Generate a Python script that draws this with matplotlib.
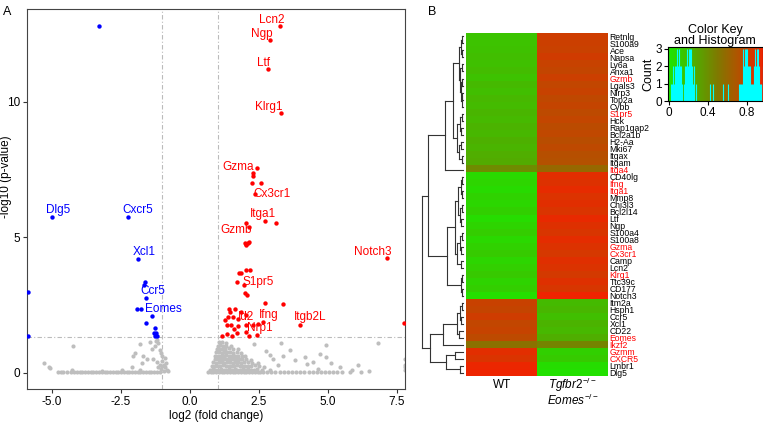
import numpy as np
import matplotlib
matplotlib.use('Agg')
import matplotlib.pyplot as plt
from matplotlib.colors import LinearSegmentedColormap

plt.rcParams['font.family'] = ['Liberation Sans', 'DejaVu Sans']
plt.rcParams['mathtext.fontset'] = 'custom'
plt.rcParams['mathtext.it'] = 'Liberation Sans:italic'
plt.rcParams['mathtext.rm'] = 'Liberation Sans'

# ---------------- volcano data ----------------
grey_x = [
    # row along the baseline, left side
    -4.77, -4.68, -4.6, -4.45, -4.3, -4.2, -4.1, -4.0, -3.9, -3.8, -3.7, -3.6, -3.5, -3.4,
    -3.3, -3.2, -3.1, -3.0, -2.9, -2.8, -2.7, -2.6, -2.5, -2.4, -2.3, -2.2, -2.1, -2.0,
    -1.9, -1.8, -1.7, -1.6, -1.5, -1.4, -1.3, -1.2, -1.1,
    # scattered left
    -5.3, -5.13, -5.06, -4.23, -4.29, -3.2, -2.47, -1.81, -1.45, -1.99, -2.05, -1.69,
    -1.39, -1.27, -1.15, -1.1, -1.05, -1.57, -1.75, -2.11, -1.81, -1.33, -1.25, -1.2,
    # small blob near -1
    -1.1, -1.0, -0.95, -0.9, -0.85, -1.05, -0.95, -0.9, -1.0, -1.15, -0.8, -1.2, -1.02, -0.88,
    # right blob
    0.66, 0.75, 0.85, 0.95, 1.05, 1.15, 1.25, 1.35, 1.45, 1.55, 1.65, 1.75, 1.85, 1.95,
    2.05, 2.15, 2.25, 2.35, 2.45, 2.55, 2.65, 2.8, 2.95, 3.1, 3.25, 3.4, 3.55, 3.7, 3.85,
    4.0, 4.15, 4.3, 4.45, 4.6, 4.75, 4.9, 5.05, 5.2, 5.35, 5.5,
    0.72, 0.82, 0.92, 1.02, 1.12, 1.22, 1.32, 1.42, 1.52, 1.62, 1.72, 1.82, 1.92, 2.02,
    2.12, 2.22, 2.32, 2.42, 2.6, 2.9,
    0.8, 0.9, 1.0, 1.1, 1.2, 1.3, 1.4, 1.5, 1.6, 1.7, 1.8, 1.9, 2.0, 2.1, 2.2, 2.35, 2.5, 2.7,
    0.85, 0.95, 1.05, 1.15, 1.25, 1.35, 1.45, 1.55, 1.65, 1.75, 1.85, 1.95, 2.1, 2.25, 2.45,
    0.9, 1.0, 1.1, 1.2, 1.3, 1.4, 1.5, 1.6, 1.7, 1.8, 1.9, 2.05, 2.2,
    0.92, 1.02, 1.12, 1.22, 1.32, 1.42, 1.52, 1.62, 1.75, 1.9, 2.0,
    0.95, 1.05, 1.15, 1.25, 1.35, 1.45, 1.55, 1.7, 1.85,
    0.98, 1.08, 1.18, 1.28, 1.4, 1.55, 1.75,
    1.0, 1.1, 1.2, 1.32, 1.5,
    1.05, 1.15, 1.3,
    # scattered right
    2.33, 3.3, 4.92, 6.82, 3.62, 2.74, 4.71, 4.95, 4.17, 3.38, 3.8, 4.47, 5.13, 5.43,
    6.1, 5.86, 4.23, 4.65, 3.0, 3.2, 2.9, 6.5, 6.2, 5.8, 7.8, 7.8, 7.8, 7.8,
]
grey_y = [
    0.02, 0.03, 0.02, 0.03, 0.02, 0.03, 0.02, 0.03, 0.02, 0.03, 0.02, 0.03, 0.02, 0.03,
    0.02, 0.03, 0.02, 0.03, 0.02, 0.03, 0.02, 0.03, 0.02, 0.03, 0.02, 0.03, 0.02, 0.03,
    0.02, 0.03, 0.02, 0.03, 0.02, 0.03, 0.02, 0.03, 0.02,
    0.37, 0.22, 0.17, 0.99, 0.12, 0.08, 0.1, 1.06, 1.14, 0.72, 0.6, 0.63,
    0.86, 0.98, 1.11, 0.85, 0.72, 0.49, 0.35, 0.22, 0.1, 0.49, 1.18, 1.2,
    0.3, 0.45, 0.3, 0.2, 0.1, 0.15, 0.05, 0.55, 0.6, 0.2, 0.05, 0.4, 0.25, 0.35,
    0.02, 0.03, 0.02, 0.03, 0.02, 0.03, 0.02, 0.03, 0.02, 0.03, 0.02, 0.03, 0.02, 0.03,
    0.02, 0.03, 0.02, 0.03, 0.02, 0.03, 0.02, 0.03, 0.02, 0.03, 0.02, 0.03, 0.02, 0.03, 0.02,
    0.03, 0.02, 0.03, 0.02, 0.03, 0.02, 0.03, 0.02, 0.03, 0.02, 0.03,
    0.12, 0.13, 0.11, 0.12, 0.14, 0.12, 0.11, 0.13, 0.12, 0.14, 0.12, 0.11, 0.13, 0.12,
    0.14, 0.12, 0.11, 0.13, 0.12, 0.1,
    0.25, 0.26, 0.24, 0.25, 0.27, 0.25, 0.24, 0.26, 0.25, 0.27, 0.24, 0.25, 0.26, 0.24,
    0.25, 0.27, 0.24, 0.22,
    0.38, 0.37, 0.39, 0.38, 0.37, 0.39, 0.38, 0.37, 0.39, 0.38, 0.37, 0.39, 0.38, 0.37, 0.36,
    0.5, 0.51, 0.49, 0.5, 0.52, 0.5, 0.49, 0.51, 0.5, 0.52, 0.49, 0.5, 0.48,
    0.62, 0.63, 0.61, 0.62, 0.64, 0.62, 0.61, 0.63, 0.62, 0.6, 0.61,
    0.75, 0.76, 0.74, 0.75, 0.77, 0.75, 0.74, 0.76, 0.73,
    0.88, 0.89, 0.87, 0.88, 0.9, 0.87, 0.86,
    1.0, 1.01, 0.99, 1.0, 0.98,
    1.12, 1.13, 1.1,
    1.06, 1.11, 1.02, 1.11, 0.84, 0.79, 0.68, 0.59, 0.59, 0.63, 0.47, 0.41, 0.35, 0.22,
    0.28, 0.12, 0.33, 0.15, 0.5, 0.3, 0.65, 0.05, 0.03, 0.04, 0.1, 0.3, 0.5, 0.2,
]

red_x = [3.26, 2.9, 2.84, 3.3, 2.42, 2.3, 2.28, 2.24, 2.56, 2.36, 2.72, 3.12, 2.05, 2.15,
         2.0, 2.05, 2.1, 2.15, 2.02, 2.17, 2.05, 1.84, 1.79, 1.69, 1.97, 1.99, 2.07, 2.72,
         3.38, 1.45, 1.63, 1.84, 1.39, 1.56, 1.75, 2.05, 2.66, 2.47, 1.33, 1.5, 1.75, 2.05,
         2.3, 3.99, 2.05, 2.42, 2.15, 1.18, 1.33, 1.51, 1.69, 7.77, 7.13, 1.42, 1.28, 1.6]
red_y = [12.8, 12.28, 11.2, 9.57, 7.54, 7.36, 7.27, 6.99, 6.99, 6.58, 5.6, 5.51, 5.54, 5.39,
         4.77, 4.74, 4.8, 4.82, 4.72, 3.79, 3.79, 3.69, 3.69, 3.36, 3.24, 2.93, 2.87, 2.58,
         2.53, 2.25, 2.34, 2.25, 2.07, 2.07, 2.0, 2.14, 1.88, 1.8, 1.76, 1.76, 1.72, 1.78,
         1.78, 1.76, 1.51, 1.39, 1.35, 1.35, 1.43, 1.35, 1.45, 1.85, 4.24, 2.35, 1.95, 1.6]

blue_x = [-3.31, -5.01, -2.23, -1.87, -1.63, -1.66, -1.6, -1.91, -1.79, -1.37, -1.6,
          -1.27, -1.3, -1.25, -1.18, -1.28, -5.88, -5.88]
blue_y = [12.8, 5.76, 5.76, 4.2, 3.36, 3.24, 2.74, 2.34, 2.34, 2.09, 1.85,
          1.64, 1.45, 1.45, 1.35, 1.35, 2.97, 1.37]

red_labels = ['Lcn2', 'Ngp', 'Ltf', 'Klrg1', 'Gzma', 'Cx3cr1', 'Itga1', 'Gzmb', 'Notch3',
              'S1pr5', 'Id2', 'Ifng', 'Itgb2L', 'Nrp1']
red_lab_x = [2.96, 2.62, 2.66, 2.84, 1.75, 2.96, 2.66, 1.67, 6.64, 2.47, 2.03, 2.87, 4.35, 2.54]
red_lab_y = [13.0, 12.5, 11.44, 9.79, 7.6, 6.59, 5.86, 5.27, 4.47, 3.36, 2.04, 2.13, 2.04, 1.64]

blue_labels = ['Dlg5', 'Cxcr5', 'Xcl1', 'Ccr5', 'Eomes']
blue_lab_x = [-4.77, -1.91, -1.67, -1.35, -0.97]
blue_lab_y = [6.0, 6.0, 4.47, 3.01, 2.34]

# ---------------- heatmap data ----------------
genes = ['Retnlg', 'S100a9', 'Ace', 'Napsa', 'Ly6a', 'Anxa1', 'Gzmb', 'Lgals3', 'Nlrp3',
         'Top2a', 'Cybb', 'S1pr5', 'Hck', 'Rap1gap2', 'Bcl2a1b', 'H2-Aa', 'Mki67', 'Itgax',
         'Itgam', 'Itga4', 'CD40lg', 'Ifng', 'Itga1', 'Mmp8', 'Chi3l3', 'Bcl2l14', 'Ltf',
         'Ngp', 'S100a4', 'S100a8', 'Gzma', 'Cx3cr1', 'Camp', 'Lcn2', 'Klrg1', 'Ttc39c',
         'CD177', 'Notch3', 'Itm2a', 'Hsph1', 'Ccr5', 'Xcl1', 'CD22', 'Eomes', 'Ikzf2',
         'Gzmm', 'CXCR5', 'Lmbr1', 'Dlg5']
red_genes = ['Gzmb', 'S1pr5', 'Itga4', 'Ifng', 'Itga1', 'Gzma', 'Cx3cr1', 'Klrg1',
             'Eomes', 'Ikzf2', 'Gzmm', 'CXCR5']

wt_vals = [0.153, 0.162, 0.171, 0.184, 0.175, 0.193, 0.166, 0.205, 0.187, 0.214, 0.196,
           0.226, 0.208, 0.235, 0.218, 0.247, 0.229, 0.258, 0.272, 0.42,
           0.062, 0.081, 0.054, 0.093, 0.073, 0.104, 0.045, 0.085, 0.116, 0.066, 0.097,
           0.125, 0.077, 0.108, 0.134, 0.088, 0.112, 0.033,
           0.812, 0.794, 0.836, 0.783, 0.803, 0.765, 0.55,
           0.918, 0.883, 0.962, 0.971]
ko_vals = [0.834, 0.822, 0.813, 0.845, 0.805, 0.792, 0.826, 0.784, 0.808, 0.772, 0.796,
           0.763, 0.787, 0.754, 0.776, 0.745, 0.768, 0.735, 0.724, 0.6,
           0.923, 0.902, 0.934, 0.893, 0.915, 0.884, 0.945, 0.906, 0.875, 0.927, 0.896,
           0.865, 0.912, 0.887, 0.856, 0.904, 0.872, 0.975,
           0.202, 0.221, 0.183, 0.238, 0.213, 0.254, 0.45,
           0.102, 0.128, 0.042, 0.025]

# row dendrogram: [merge height, left, right], leaves are row indices
G1 = [4, [2, [1, 0, 1], [1.5, 2, 3]], [3, [1, 4, 5], [2, [1, 6, 7], [1.2, [0.8, 8, 9], 10]]]]
G2 = [6, [3, [1.5, 11, 12], [2, 13, 14]], [4, [2, 15, 16], [1, 17, 18]]]
A1 = [18, [10, G1, G2], 19]
G3 = [8, [5, [2, [1, 20, 21], [1.5, 22, 23]], [3, [1, 24, 25], [2, 26, 27]]],
      [6, [3, [1, 28, 29], [2, 30, 31]], [2.5, 32, 33]]]
G4 = [2, [1, 34, 35], [1.5, 36, 37]]
A2 = [16, G3, G4]
B1 = [21, [6, [3, [1.5, 38, 39], [2, 40, 41]], [4, 42, 43]], 44]
B2 = [17, [8, 45, 46], [3, 47, 48]]
tree = [42, [36, A1, A2], [34, B1, B2]]

cmap = LinearSegmentedColormap.from_list('gr', ['#1EE600', '#7F7A00', '#F52000'])

fig = plt.figure(figsize=(7.63, 4.23), dpi=100)

# ---------------- panel A ----------------
ax = fig.add_axes([0.0358, 0.0797, 0.495, 0.899])
ax.scatter(grey_x, grey_y, s=9, color='#BEBEBE', linewidths=0, zorder=2)
ax.scatter(red_x, red_y, s=10, color='red', linewidths=0, zorder=3)
ax.scatter(blue_x, blue_y, s=10, color='blue', linewidths=0, zorder=3)
ax.axvline(-1, color='#BBBBBB', lw=0.8, ls=(0, (4, 2, 1, 2)), zorder=1)
ax.axvline(1, color='#BBBBBB', lw=0.8, ls=(0, (4, 2, 1, 2)), zorder=1)
ax.axhline(-np.log10(0.05), color='#BBBBBB', lw=0.8, ls=(0, (4, 2, 1, 2)), zorder=1)
for t, x, y in zip(red_labels, red_lab_x, red_lab_y):
    ax.text(x, y, t, color='red', fontsize=8.5, ha='center', va='center', zorder=4)
for t, x, y in zip(blue_labels, blue_lab_x, blue_lab_y):
    ax.text(x, y, t, color='blue', fontsize=8.5, ha='center', va='center', zorder=4)
ax.set_xlim(-5.9, 7.8)
ax.set_ylim(-0.61, 13.42)
ax.set_xticks([-5.0, -2.5, 0.0, 2.5, 5.0, 7.5])
ax.set_xticklabels(['-5.0', '-2.5', '0.0', '2.5', '5.0', '7.5'])
ax.set_yticks([0, 5, 10])
ax.tick_params(labelsize=8.5, length=3, width=0.8, color='#333333', pad=2)
for sp in ax.spines.values():
    sp.set_color('#444444')
    sp.set_linewidth(0.8)
ax.set_xlabel('log2 (fold change)', fontsize=8.5, labelpad=1)
ax.set_ylabel('-log10 (p-value)', fontsize=8.5)
ax.yaxis.set_label_coords(-0.041, 0.56)
fig.text(0.004, 0.985, 'A', fontsize=9, va='top')
fig.text(0.561, 0.985, 'B', fontsize=9, va='top')

# ---------------- panel B heatmap ----------------
n = len(genes)
hm = fig.add_axes([0.611, 0.111, 0.186, 0.811])
mat = np.column_stack([wt_vals, ko_vals])
hm.imshow(mat, cmap=cmap, vmin=0, vmax=1, aspect='auto', interpolation='nearest')
hm.set_xlim(-0.5, 1.5)
hm.set_ylim(n - 0.5, -0.5)
hm.set_xticks([])
hm.set_yticks(range(n))
hm.set_yticklabels(genes, fontsize=6.2)
hm.yaxis.tick_right()
hm.tick_params(axis='y', length=0, pad=1)
for lab in hm.get_yticklabels():
    if lab.get_text() in red_genes:
        lab.set_color('red')
for sp in hm.spines.values():
    sp.set_visible(False)
hm.text(0, n + 0.8, 'WT', ha='center', va='center', fontsize=8.5)
hm.text(1, n + 0.8, r'$Tgfbr2^{-/-}$', ha='center', va='center', fontsize=8.5)
hm.text(1, n + 3.0, r'$Eomes^{-/-}$', ha='center', va='center', fontsize=8.5)

# ---------------- row dendrogram ----------------
dn = fig.add_axes([0.549, 0.111, 0.062, 0.811])
dn.set_ylim(n - 0.5, -0.5)
dn.set_xlim(45, -3)
dn.axis('off')


def draw(node):
    if not isinstance(node, list):
        return float(node), 0.0
    h, left, right = node
    yl, hl = draw(left)
    yr, hr = draw(right)
    dn.plot([hl, h], [yl, yl], color='#333333', lw=0.8)
    dn.plot([hr, h], [yr, yr], color='#333333', lw=0.8)
    dn.plot([h, h], [yl, yr], color='#333333', lw=0.8)
    return (yl + yr) / 2, h


draw(tree)

# ---------------- colour key ----------------
ck = fig.add_axes([0.875, 0.761, 0.125, 0.128])
ck.imshow(np.linspace(0, 1, 256)[None, :], cmap=cmap, aspect='auto',
          extent=[0, 1, 0, 3.1], zorder=0)
bins = np.linspace(0, 1, 101)
counts, edges = np.histogram(wt_vals + ko_vals, bins=bins)
centers = (edges[:-1] + edges[1:]) / 2
keep = counts > 0
ck.vlines(centers[keep], 0, counts[keep], color='cyan', lw=0.8, zorder=2)
ck.set_xlim(-0.015, 0.97)
ck.set_ylim(0, 3.1)
ck.set_xticks([0, 0.4, 0.8])
ck.set_xticklabels(['0', '0.4', '0.8'])
ck.set_yticks([0, 1, 2, 3])
ck.tick_params(labelsize=8.5, length=3, pad=1)
ck.set_ylabel('Count', fontsize=9, labelpad=1)
ck.set_title('Color Key\nand Histogram', fontsize=9, pad=2, linespacing=0.9)

fig.savefig('out.png', dpi=100)
